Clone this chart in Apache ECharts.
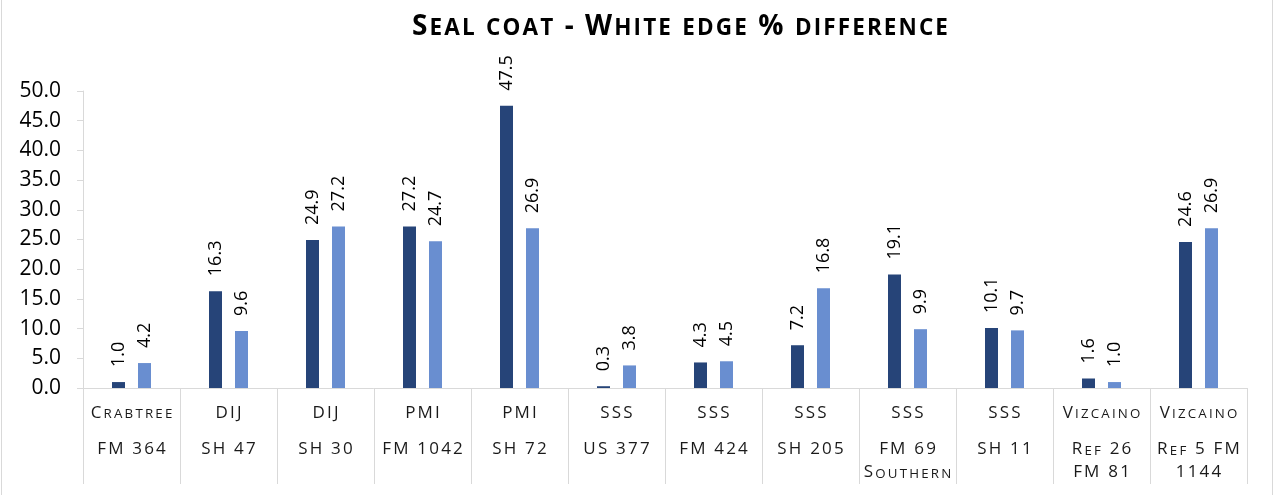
<!DOCTYPE html>
<html>
<head>
<meta charset="utf-8">
<script src="https://cdn.jsdelivr.net/npm/echarts@6/dist/echarts.min.js"></script>
<style>
  html, body { margin: 0; padding: 0; background: #ffffff; }
  #chart { width: 1275px; height: 495px; }
</style>
</head>
<body>
<div id="chart"></div>
<script>
// Contractor / route pairs along the category axis
const contractors = ['Crabtree', 'DIJ', 'DIJ', 'PMI', 'PMI', 'SSS', 'SSS', 'SSS', 'SSS', 'SSS', 'Vizcaino', 'Vizcaino'];
const routes = ['FM 364', 'SH 47', 'SH 30', 'FM 1042', 'SH 72', 'US 377', 'FM 424', 'SH 205', 'FM 69\nSouthern', 'SH 11', 'Ref 26\nFM 81', 'Ref 5 FM\n1144'];

// White edge % difference, two measurements per section
const seriesDark = [1.0, 16.3, 24.9, 27.2, 47.5, 0.3, 4.3, 7.2, 19.1, 10.1, 1.6, 24.6];
const seriesLight = [4.2, 9.6, 27.2, 24.7, 26.9, 3.8, 4.5, 16.8, 9.9, 9.7, 1.0, 26.9];

// Value axis range
const yMin = 0;
const yMax = 50;
const yStep = 5;

const titleText = 'Seal coat - White edge % difference';

const FONT = '"Open Sans", "DejaVu Sans", sans-serif';

// Small-caps rendering: lowercase letters become reduced capitals, everything
// else stays full size. Each character is its own rich token so it can carry
// letter spacing.
function smallCaps(line, big, small) {
  const out = [];
  for (const ch of line) {
    if (/[a-z]/.test(ch)) {
      out.push('{' + small + '|' + ch.toUpperCase() + '}');
    } else {
      out.push('{' + big + '|' + ch + '}');
    }
  }
  return out.join('');
}

function categoryLabel(idx) {
  const lines = [smallCaps(contractors[idx], 'b1', 's1')];
  routes[idx].split('\n').forEach(l => lines.push(smallCaps(l, 'b2', 's2')));
  return lines.join('\n');
}

const catBig = 17, catSmall = 13.3, catPad = 1.1;
const catShift = 0.714 * (catBig - catSmall);

const titleBig = 28, titleSmall = 22.5, titlePad = 1.05;
const titleShift = 0.714 * (titleBig - titleSmall);

const categories = contractors.map((c, i) => c + '\n' + routes[i]);

const chart = echarts.init(document.getElementById('chart'), null, { renderer: 'canvas' });

const barLabel = {
  show: true,
  position: 'top',
  rotate: 90,
  align: 'left',
  verticalAlign: 'middle',
  distance: 15,
  fontFamily: FONT,
  fontSize: 18,
  color: '#000000',
  formatter: p => p.value.toFixed(1)
};

chart.setOption({
  animation: false,
  backgroundColor: '#ffffff',
  grid: { left: 83, right: 28, top: 91, bottom: 107, containLabel: false },
  graphic: [
    {
      type: 'rect',
      shape: { x: 1.5, y: -2, width: 1271, height: 499 },
      style: { fill: 'none', stroke: '#d9d9d9', lineWidth: 1 },
      silent: true
    },
    {
      type: 'text',
      x: 680,
      y: 27,
      style: {
        text: smallCaps(titleText, 'B', 'S'),
        align: 'center',
        verticalAlign: 'middle',
        rich: {
          B: { fontFamily: FONT, fontWeight: 'bold', fontSize: titleBig, color: '#000', padding: [0, titlePad], verticalAlign: 'middle' },
          S: { fontFamily: FONT, fontWeight: 'bold', fontSize: titleSmall, color: '#000', padding: [titleShift, titlePad, 0, titlePad], verticalAlign: 'middle' }
        }
      }
    }
  ],
  xAxis: {
    type: 'category',
    data: categories,
    boundaryGap: true,
    axisLine: { show: true, lineStyle: { color: '#d9d9d9', width: 1 } },
    axisTick: { show: true, interval: 0, length: 96, lineStyle: { color: '#d9d9d9', width: 1 } },
    axisLabel: {
      interval: 0,
      margin: 0,
      formatter: (v, i) => categoryLabel(i),
      rich: {
        b1: { fontFamily: FONT, fontSize: catBig, color: '#1a1a1a', lineHeight: 50, padding: [0, catPad], verticalAlign: 'middle' },
        s1: { fontFamily: FONT, fontSize: catSmall, color: '#1a1a1a', padding: [catShift, catPad, 0, catPad], verticalAlign: 'middle' },
        b2: { fontFamily: FONT, fontSize: catBig, color: '#1a1a1a', lineHeight: 23, padding: [0, catPad], verticalAlign: 'middle' },
        s2: { fontFamily: FONT, fontSize: catSmall, color: '#1a1a1a', padding: [catShift, catPad, 0, catPad], verticalAlign: 'middle' }
      }
    },
    splitLine: { show: false }
  },
  yAxis: {
    type: 'value',
    min: yMin,
    max: yMax,
    interval: yStep,
    axisLine: { show: true, lineStyle: { color: '#d9d9d9', width: 1 } },
    axisTick: { show: true, length: 6, lineStyle: { color: '#d9d9d9', width: 1 } },
    axisLabel: {
      margin: 22,
      fontFamily: FONT,
      fontSize: 21,
      color: '#000000',
      formatter: v => v.toFixed(1)
    },
    splitLine: { show: false }
  },
  series: [
    {
      type: 'bar',
      data: seriesDark,
      barWidth: 13,
      barGap: '100%',
      itemStyle: { color: '#264478' },
      label: barLabel
    },
    {
      type: 'bar',
      data: seriesLight,
      barWidth: 13,
      barGap: '100%',
      itemStyle: { color: '#698ed0' },
      label: barLabel
    }
  ]
});
</script>
</body>
</html>
